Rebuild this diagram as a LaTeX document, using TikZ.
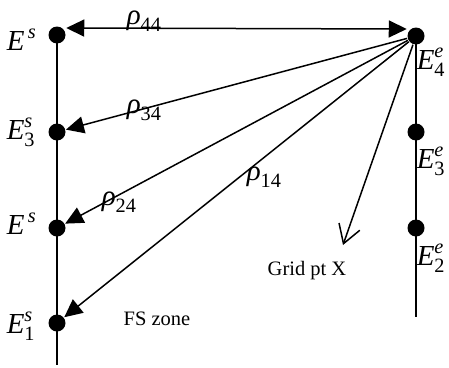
\documentclass[tikz,border=0pt]{standalone}
\usepackage{fix-cm}
\usepackage{amsmath}
\usepackage{fontspec}
\setmainfont{Liberation Serif}
\usetikzlibrary{arrows.meta}
\tikzset{
  pt_node/.style = {circle, fill=black, inner sep=0pt,
    minimum size=17pt},% point E
  sym_node/.style = {inner sep=0pt, anchor=base west,
    font=\fontsize{29}{32}\selectfont},% etiquette E, rho
  txt_node/.style = {inner sep=0pt, anchor=base,
    font=\fontsize{20.5}{24}\selectfont},% texte
  grid_arrow/.style = {-{Straight Barb[length=18pt,width=22pt]}}
}

\begin{document}
\begin{tikzpicture}[x=1pt, y=-1pt, line width=1.5pt,
    >={Triangle[length=18pt,width=17pt]}]
  \useasboundingbox (0,0) rectangle (449,367);
  % points s
  \node [pt_node] (s4) at (57,35) {};
  \node [pt_node] (s3) at (57,132) {};
  \node [pt_node] (s2) at (57,228) {};
  \node [pt_node] (s1) at (57,323) {};
  % points e
  \node [pt_node] (e4) at (416,36) {};
  \node [pt_node] (e3) at (416,132) {};
  \node [pt_node] (e2) at (416,228) {};
  \coordinate (s_end) at (57,365);
  \coordinate (e_end) at (416,317);
  \coordinate (gridpt) at (343,245);

  \draw (s4.center) -- (s_end);
  \draw (e4.center) -- (e_end);

  % etiquettes
  \node [sym_node] (ls4) at (6,50) {$\textit{E}^{\,\textit{s}}$};
  \node [sym_node] (ls3) at (6,139) {$\textit{E}^{\textit{s}}_{\text{3}}$};
  \node [sym_node] (ls2) at (6,234) {$\textit{E}^{\,\textit{s}}$};
  \node [sym_node] (ls1) at (6,333) {$\textit{E}^{\textit{s}}_{\text{1}}$};
  \node [sym_node] (le4) at (416,69) {$\textit{E}^{\textit{e}}_{\text{4}}$};
  \node [sym_node] (le3) at (416,168) {$\textit{E}^{\textit{e}}_{\text{3}}$};
  \node [sym_node] (le2) at (416,265) {$\textit{E}^{\textit{e}}_{\text{2}}$};

  \node [sym_node] (r44) at (126,24) {$\textit{ρ}_{\text{44}}$};
  \node [sym_node] (r34) at (126,113) {$\textit{ρ}_{\text{34}}$};
  \node [sym_node] (r24) at (101,205) {$\textit{ρ}_{\text{24}}$};
  \node [sym_node] (r14) at (246,180) {$\textit{ρ}_{\text{14}}$};

  \node [txt_node] (gridlbl) at (307,275) {Grid pt X};
  \node [txt_node] (fslbl) at (157,325) {FS zone};

  % fleches
  \draw [<->] ([yshift=7pt]e4.west) -- ([yshift=7pt]s4.east);
  \draw [->] (e4) -- (s3);
  \draw [->] (e4) -- (s2);
  \draw [->] (e4) -- (s1);
  \draw [grid_arrow] (e4) -- (gridpt);
\end{tikzpicture}
\end{document}
